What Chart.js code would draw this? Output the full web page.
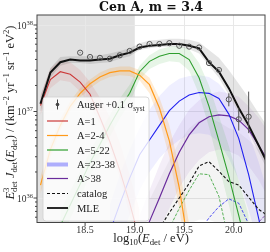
<!DOCTYPE html>
<html>
<head>
<meta charset="utf-8">
<script src="https://cdn.jsdelivr.net/npm/chart.js@4.4.0/dist/chart.umd.min.js"></script>
<style>
  html, body { margin: 0; padding: 0; background: #fff; }
</style>
</head>
<body>
<canvas id="chart" width="270" height="252"></canvas>
<script>
// energy grid, log10(E / eV)
const logE = [18.05, 18.15, 18.25, 18.35, 18.45, 18.55, 18.65, 18.75, 18.85, 18.95, 19.05, 19.15,
              19.25, 19.35, 19.45, 19.55, 19.65, 19.75, 19.85, 19.95, 20.05, 20.15, 20.25, 20.35];

// all fluxes stored as log10 values
const mle    = [37.09, 37.45, 37.57, 37.60, 37.59, 37.59, 37.60, 37.61, 37.65, 37.68, 37.74, 37.76,
                37.77, 37.78, 37.78, 37.76, 37.73, 37.57, 37.46, 37.27, 37.04, 36.84, 36.61, 36.38];
const mleHi  = [37.18, 37.50, 37.63, 37.64, 37.64, 37.64, 37.65, 37.67, 37.70, 37.73, 37.79, 37.82,
                37.83, 37.84, 37.84, 37.83, 37.80, 37.71, 37.62, 37.48, 37.32, 37.16, 36.98, 36.81];
const mleLo  = [36.99, 37.39, 37.53, 37.56, 37.56, 37.55, 37.56, 37.57, 37.61, 37.64, 37.71, 37.73,
                37.75, 37.75, 37.75, 37.72, 37.67, 37.53, 37.39, 37.19, 36.97, 36.76, 36.53, 36.30];

const aOne   = [37.07, 37.37, 37.46, 37.43, 37.34, 37.20, 36.93, 36.65, 36.32, 35.94, 35.51, null,
                null, null, null, null, null, null, null, null, null, null, null, null];
const aOneHi = [37.19, 37.50, 37.60, 37.57, 37.48, 37.34, 37.16, 36.93, 36.64, 36.27, 35.86, null,
                null, null, null, null, null, null, null, null, null, null, null, null];
const aOneLo = [36.96, 37.27, 37.36, 37.34, 37.23, 37.06, 36.86, 36.58, 36.23, 35.80, 35.34, null,
                null, null, null, null, null, null, null, null, null, null, null, null];

const aTwo   = [36.15, 36.56, 36.84, 37.06, 37.21, 37.32, 37.40, 37.45, 37.47, 37.47, 37.42, 37.31,
                37.04, 36.66, 36.12, 35.40, null, null, null, null, null, null, null, null];
const aTwoHi = [36.25, 36.63, 36.91, 37.12, 37.27, 37.37, 37.45, 37.50, 37.52, 37.52, 37.48, 37.39,
                37.16, 36.84, 36.35, 35.70, null, null, null, null, null, null, null, null];
const aTwoLo = [36.05, 36.47, 36.78, 37.01, 37.16, 37.27, 37.35, 37.40, 37.42, 37.41, 37.36, 37.21,
                36.90, 36.47, 35.88, 35.10, null, null, null, null, null, null, null, null];

const aFive   = [null, null, 35.68, 35.92, 36.16, 36.41, 36.62, 36.84, 37.04, 37.21, 37.46, 37.58,
                 37.64, 37.67, 37.67, 37.60, 37.39, 37.06, 36.66, 36.25, 35.80, 35.34, null, null];
const aFiveHi = [null, null, 35.85, 36.08, 36.31, 36.54, 36.75, 36.96, 37.15, 37.31, 37.53, 37.65,
                 37.72, 37.75, 37.76, 37.72, 37.56, 37.30, 36.95, 36.60, 36.20, 35.80, null, null];
const aFiveLo = [null, null, 35.50, 35.76, 36.01, 36.26, 36.48, 36.71, 36.92, 37.10, 37.37, 37.49,
                 37.55, 37.58, 37.57, 37.47, 37.20, 36.82, 36.38, 35.92, 35.45, 35.00, null, null];

const aMid   = [null, null, null, null, null, null, null, 35.61, 35.93, 36.23, 36.50, 36.67,
                36.84, 37.01, 37.12, 37.19, 37.22, 37.21, 37.15, 36.97, 36.69, 36.27, 35.77, 35.26];
const aMidHi = [null, null, null, null, null, null, null, 35.92, 36.27, 36.56, 36.81, 37.02,
                37.18, 37.30, 37.38, 37.41, 37.42, 37.40, 37.32, 37.18, 36.99, 36.74, 36.42, 36.04];
const aMidLo = [null, null, null, null, null, null, null, 35.28, 35.51, 35.80, 36.09, 36.30,
                36.46, 36.58, 36.67, 36.73, 36.75, 36.73, 36.65, 36.46, 36.21, 35.86, 35.46, 35.05];

const aHeavy   = [null, null, null, null, null, null, null, null, null, null, 35.46, 35.73,
                  36.00, 36.28, 36.53, 36.73, 36.87, 36.94, 36.96, 36.95, 36.90, 36.79, 36.61, 36.42];
const aHeavyHi = [null, null, null, null, null, null, null, null, null, null, 35.80, 36.09,
                  36.38, 36.64, 36.84, 37.02, 37.13, 37.20, 37.23, 37.21, 37.17, 37.06, 36.93, 36.76];
const aHeavyLo = [null, null, null, null, null, null, null, null, null, null, 35.28, 35.46,
                  35.65, 35.88, 36.12, 36.30, 36.44, 36.53, 36.56, 36.54, 36.49, 36.37, 36.21, 36.00];

const catalog   = [null, null, null, null, null, null, null, null, null, null, null, null,
                   35.65, 35.83, 36.00, 36.17, 36.37, 36.42, 36.31, 36.19, 36.15, 36.01, 35.87, 35.79];
const catalogHi = [null, null, null, null, null, null, null, null, null, null, null, 35.98,
                   36.21, 36.44, 36.65, 36.81, 36.90, 36.93, 36.88, 36.81, 36.76, 36.67, 36.56, 36.44];
const catalogLo = [null, null, null, null, null, null, null, null, null, null, null, 35.20,
                   35.35, 35.50, 35.60, 35.70, 35.75, 35.75, 35.70, 35.65, 35.60, 35.50, 35.40, 35.30];
const catFive  = [null, null, null, null, null, null, null, null, null, null, null, null,
                  null, 35.65, 35.88, 36.09, 36.28, 36.27, 36.02, 35.51, null, null, null, null];
const catMid   = [null, null, null, null, null, null, null, null, null, null, null, null,
                  null, null, null, null, 35.61, 35.77, 35.90, 35.99, 35.94, 35.70, 35.40, null];
const catHeavy = [null, null, null, null, null, null, null, null, null, null, null, null,
                  null, null, null, null, null, null, null, null, null, 35.56, 35.72, 35.84];

// Auger points (+0.1 sigma_syst)
const augerE  = [18.45, 18.55, 18.65, 18.75, 18.85, 18.95, 19.05, 19.15, 19.25,
                 19.35, 19.45, 19.55, 19.65, 19.75, 19.85, 19.95, 20.05, 20.15];
const augerJ  = [37.68, 37.63, 37.62, 37.61, 37.65, 37.70, 37.75, 37.78, 37.78,
                 37.79, 37.76, 37.75, 37.74, 37.56, 37.48, 37.14, 36.91, 36.94];
const augerLo = [37.675, 37.625, 37.615, 37.605, 37.645, 37.695, 37.745, 37.775, 37.775,
                 37.785, 37.755, 37.745, 37.735, 37.55, 37.465, 37.06, 36.78, 36.75];
const augerHi = [37.685, 37.635, 37.625, 37.615, 37.655, 37.705, 37.755, 37.785, 37.785,
                 37.795, 37.765, 37.755, 37.745, 37.57, 37.495, 37.21, 37.04, 37.23];

const xTicks = [18.5, 19.0, 19.5, 20.0];
const yDecades = [36, 37, 38];
const shadeEnd = 19.0;

const legendLabels = ['Auger +0.1 σ', 'A=1', 'A=2-4', 'A=5-22', 'A=23-38', 'A>38', 'catalog', 'MLE'];

const colors = {
    red: '#cc3838',
    orange: '#ff9a1a',
    green: '#2e9e2e',
    blue: '#2020f0',
    purple: '#6a2c9c'
};

const serif = '"Liberation Serif", "DejaVu Serif", serif';
const font = (size, style) => (style ? style + ' ' : '') + size + 'px ' + serif;

const toPts = (arr, xs) => (xs || logE)
    .map((x, i) => ({ x: x, v: arr[i] }))
    .filter(p => p.v !== null)
    .map(p => ({ x: p.x, y: Math.pow(10, p.v) }));

function line(arr, color, width, dash) {
    return { data: toPts(arr), borderColor: color, borderWidth: width, borderDash: dash || [],
             pointRadius: 0, fill: false, tension: 0 };
}
function band(hi, lo, fillColor) {
    return [
        { data: toPts(hi), borderColor: 'rgba(0,0,0,0)', borderWidth: 1, pointRadius: 0,
          fill: '+1', backgroundColor: fillColor, tension: 0 },
        { data: toPts(lo), borderColor: 'rgba(0,0,0,0)', borderWidth: 1, pointRadius: 0,
          fill: false, tension: 0 }
    ];
}

// rich text helpers for sub/superscripts
function partWidth(ctx, p, size) {
    const small = size * 0.7;
    if (p[1] === 'ss') {
        ctx.font = font(small);
        return Math.max(ctx.measureText(p[0]).width, ctx.measureText(p[2]).width);
    }
    ctx.font = p[1] === 'i' ? font(size, 'italic') : (p[1] === 'r' ? font(size) : font(small));
    return ctx.measureText(p[0]).width;
}
function partsWidth(ctx, parts, size) {
    return parts.reduce((w, p) => w + partWidth(ctx, p, size), 0);
}
function drawParts(ctx, parts, x, y, size) {
    ctx.textAlign = 'left';
    ctx.textBaseline = 'alphabetic';
    parts.forEach(p => {
        const w = partWidth(ctx, p, size);
        if (p[1] === 'ss') {
            ctx.fillText(p[0], x, y - size * 0.38);
            ctx.fillText(p[2], x, y + size * 0.24);
        } else if (p[1] === 'sub') {
            ctx.fillText(p[0], x, y + size * 0.24);
        } else if (p[1] === 'sup') {
            ctx.fillText(p[0], x, y - size * 0.38);
        } else {
            ctx.fillText(p[0], x, y);
        }
        x += w;
    });
}

const yTitle = [['E', 'i'], ['3', 'ss', 'det'], [' ', 'r'], ['J', 'i'], ['det', 'sub'], ['(', 'r'], ['E', 'i'],
                ['det', 'sub'], [') / (km', 'r'], ['−2', 'sup'], [' yr', 'r'], ['−1', 'sup'],
                [' sr', 'r'], ['−1', 'sup'], [' eV', 'r'], ['2', 'sup'], [')', 'r']];
const xTitle = [['log', 'r'], ['10', 'sub'], ['(', 'r'], ['E', 'i'], ['det', 'sub'], [' / eV)', 'r']];

const shadePlugin = {
    id: 'shade',
    beforeDraw(chart) {
        const { ctx, chartArea: a, scales: { x } } = chart;
        ctx.save();
        ctx.fillStyle = '#e2e2e2';
        ctx.fillRect(a.left, a.top, x.getPixelForValue(shadeEnd) - a.left, a.bottom - a.top);
        ctx.restore();
    }
};

const errorBarPlugin = {
    id: 'errorBars',
    afterDatasetsDraw(chart) {
        const { ctx, scales: { x, y } } = chart;
        ctx.save();
        ctx.strokeStyle = '#555';
        ctx.lineWidth = 1;
        augerE.forEach((e, i) => {
            const px = x.getPixelForValue(e);
            ctx.beginPath();
            ctx.moveTo(px, y.getPixelForValue(Math.pow(10, augerLo[i])));
            ctx.lineTo(px, y.getPixelForValue(Math.pow(10, augerHi[i])));
            ctx.stroke();
        });
        ctx.restore();
    }
};

const decoPlugin = {
    id: 'deco',
    afterDraw(chart) {
        const { ctx, chartArea: a, scales: { x, y } } = chart;
        ctx.save();
        // frame
        ctx.strokeStyle = '#444';
        ctx.lineWidth = 1;
        ctx.strokeRect(a.left, a.top, a.right - a.left, a.bottom - a.top);

        // tick marks
        ctx.beginPath();
        xTicks.forEach(v => {
            const px = x.getPixelForValue(v);
            ctx.moveTo(px, a.bottom); ctx.lineTo(px, a.bottom + 3.5);
        });
        y.ticks.forEach(t => {
            const py = y.getPixelForValue(t.value);
            const len = t.major ? 3.5 : 2;
            ctx.moveTo(a.left, py); ctx.lineTo(a.left - len, py);
        });
        ctx.stroke();

        // tick labels
        ctx.fillStyle = '#333';
        ctx.font = font(10);
        ctx.textAlign = 'center';
        ctx.textBaseline = 'middle';
        xTicks.forEach(v => ctx.fillText(v.toFixed(1), x.getPixelForValue(v), a.bottom + 7.5));
        yDecades.forEach(d => {
            const py = y.getPixelForValue(Math.pow(10, d));
            ctx.font = font(6.5);
            const sw = ctx.measureText(String(d)).width;
            ctx.textAlign = 'right';
            ctx.textBaseline = 'alphabetic';
            ctx.fillText(String(d), a.left - 4, py - 0.5);
            ctx.font = font(9.5);
            ctx.fillText('10', a.left - 4 - sw, py + 3.5);
        });

        // axis titles
        ctx.fillStyle = '#222';
        const xs = 12.5;
        const xw = partsWidth(ctx, xTitle, xs);
        drawParts(ctx, xTitle, (a.left + a.right) / 2 - xw / 2, 242, xs);
        const ys = 12.5;
        const yw = partsWidth(ctx, yTitle, ys);
        ctx.translate(13.5, 112.5);
        ctx.rotate(-Math.PI / 2);
        drawParts(ctx, yTitle, -yw / 2, 0, ys);
        ctx.restore();

        // title
        ctx.save();
        ctx.fillStyle = '#111';
        ctx.font = 'bold 12.5px "DejaVu Serif", serif';
        ctx.textAlign = 'center';
        ctx.textBaseline = 'alphabetic';
        ctx.fillText('Cen A, m = 3.4', (a.left + a.right) / 2, 11);
        ctx.restore();

        drawLegend(ctx);
    }
};

function drawLegend(ctx) {
    const bx = 43, by = 97, bw = 106, bh = 124;
    ctx.save();
    ctx.beginPath();
    ctx.roundRect(bx, by, bw, bh, 3);
    ctx.fillStyle = 'rgba(255,255,255,0.82)';
    ctx.fill();
    ctx.strokeStyle = '#d0d0d0';
    ctx.lineWidth = 0.8;
    ctx.stroke();

    const rows = [104.5, 121, 135.5, 150, 164.5, 178.5, 193.5, 208];
    const styles = [
        null,
        { c: colors.red, w: 1.2 },
        { c: colors.orange, w: 1.2 },
        { c: colors.green, w: 1.2 },
        { c: 'rgba(60,60,255,0.4)', w: 4 },
        { c: colors.purple, w: 1.2 },
        { c: '#111', w: 1.2, d: [3, 2] },
        { c: '#111', w: 1.8 }
    ];
    const x0 = 47, x1 = 68, tx = 77;
    rows.forEach((ry, i) => {
        const s = styles[i];
        if (!s) {
            ctx.strokeStyle = '#444';
            ctx.lineWidth = 1;
            ctx.setLineDash([]);
            ctx.beginPath();
            ctx.moveTo(57.5, ry - 5); ctx.lineTo(57.5, ry + 5);
            ctx.stroke();
            ctx.beginPath();
            ctx.arc(57.5, ry, 1.8, 0, Math.PI * 2);
            ctx.fillStyle = '#444';
            ctx.fill();
        } else {
            ctx.strokeStyle = s.c;
            ctx.lineWidth = s.w;
            ctx.setLineDash(s.d || []);
            ctx.beginPath();
            ctx.moveTo(x0, ry); ctx.lineTo(x1, ry);
            ctx.stroke();
        }
        ctx.fillStyle = '#222';
        const parts = i === 0 ? [[legendLabels[0], 'r'], ['syst', 'sub']] : [[legendLabels[i], 'r']];
        drawParts(ctx, parts, tx, ry + 3.5, 10.5);
    });
    ctx.restore();
}

const pointsSet = {
    data: augerE.map((e, i) => ({ x: e, y: Math.pow(10, augerJ[i]) })),
    showLine: false, pointRadius: 2.6, pointBorderWidth: 1,
    pointBackgroundColor: 'rgba(0,0,0,0)', pointBorderColor: '#555', borderColor: '#555'
};

const datasets = [
    pointsSet,
    line(mle, '#111', 2),
    line(catalog, '#111', 1.1, [3, 2]),
    line(aOne, colors.red, 1.1),
    line(aTwo, colors.orange, 1.2),
    line(aFive, colors.green, 1.1),
    line(aMid, colors.blue, 1.1),
    line(aHeavy, colors.purple, 1.2),
    line(catFive, colors.green, 0.8, [3, 1.5]),
    line(catMid, colors.blue, 0.8, [3, 1.5]),
    line(catHeavy, colors.purple, 0.8, [3, 1.5]),
    ...band(mleHi, mleLo, 'rgba(0,0,0,0.10)'),
    ...band(aOneHi, aOneLo, 'rgba(210,60,60,0.11)'),
    ...band(aTwoHi, aTwoLo, 'rgba(255,150,20,0.18)'),
    ...band(aFiveHi, aFiveLo, 'rgba(40,160,40,0.11)'),
    ...band(aMidHi, aMidLo, 'rgba(50,50,255,0.08)'),
    ...band(aHeavyHi, aHeavyLo, 'rgba(110,40,160,0.08)'),
    ...band(catalogHi, catalogLo, 'rgba(0,0,0,0.045)')
];

new Chart(document.getElementById('chart').getContext('2d'), {
    type: 'line',
    data: { datasets: datasets },
    options: {
        responsive: false,
        devicePixelRatio: 1,
        animation: false,
        events: [],
        layout: { padding: { left: 0, right: 3, top: 15, bottom: 0 } },
        plugins: { legend: { display: false }, tooltip: { enabled: false } },
        scales: {
            x: {
                type: 'linear',
                min: 18.015,
                max: 20.315,
                afterBuildTicks: s => { s.ticks = xTicks.map(v => ({ value: v })); },
                afterFit: s => { s.height = 29.5; },
                ticks: { display: false },
                grid: { color: '#e8e8e8', drawTicks: false },
                border: { display: false }
            },
            y: {
                type: 'logarithmic',
                min: Math.pow(10, 35.717),
                max: Math.pow(10, 38.1156),
                afterBuildTicks: s => {
                    const t = [];
                    [35, 36, 37, 38].forEach(d => {
                        for (let m = 1; m <= 9; m++) {
                            const v = m * Math.pow(10, d);
                            if (v >= s.min && v <= s.max) t.push({ value: v, major: m === 1 });
                        }
                    });
                    s.ticks = t;
                },
                afterFit: s => { s.width = 37; },
                ticks: { display: false },
                grid: {
                    drawTicks: false,
                    color: c => (c.tick && c.tick.major) ? '#e8e8e8' : 'rgba(0,0,0,0)'
                },
                border: { display: false }
            }
        }
    },
    plugins: [shadePlugin, errorBarPlugin, decoPlugin]
});
</script>
</body>
</html>
